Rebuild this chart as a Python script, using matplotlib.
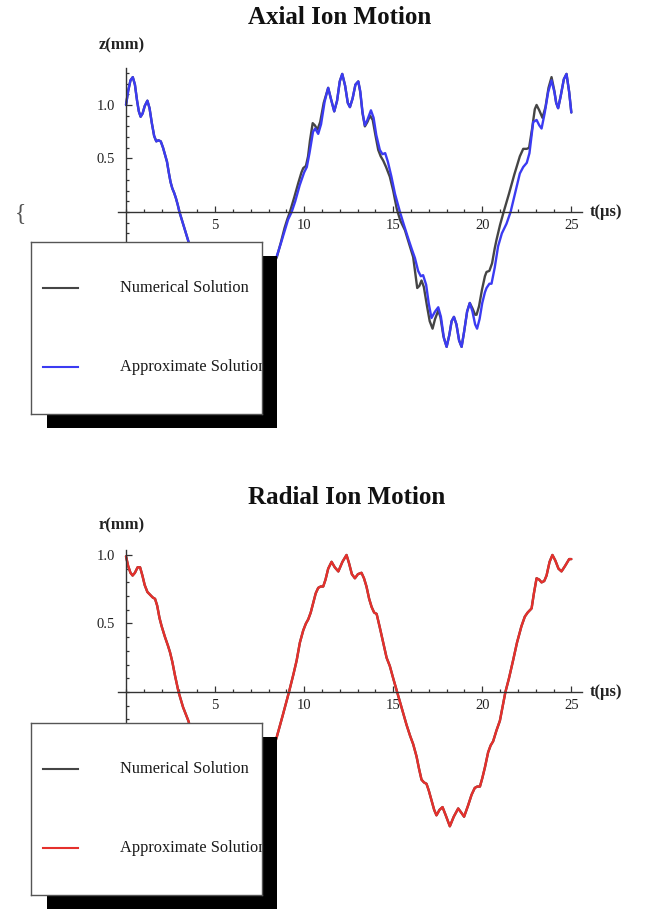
import matplotlib
matplotlib.use("Agg")
import matplotlib.pyplot as plt
from matplotlib.patches import Rectangle
from matplotlib.ticker import FixedLocator, MultipleLocator

plt.rcParams['font.family'] = ['Liberation Serif', 'DejaVu Serif']

# (t in us, z in mm)
axial_numerical = [
    (0.00, 1.00), (0.12, 1.13), (0.25, 1.23), (0.38, 1.26), (0.50, 1.19), (0.62, 1.04),
    (0.72, 0.94), (0.82, 0.89), (0.93, 0.92), (1.05, 0.99), (1.20, 1.04), (1.32, 0.97),
    (1.45, 0.83), (1.58, 0.71), (1.70, 0.66), (1.82, 0.67), (1.95, 0.66), (2.08, 0.60),
    (2.20, 0.53), (2.30, 0.47), (2.40, 0.37), (2.50, 0.28), (2.60, 0.22), (2.70, 0.18),
    (2.80, 0.13), (2.90, 0.07), (3.00, 0.00), (3.20, -0.11), (3.40, -0.22), (3.55, -0.30),
    (3.80, -0.45), (4.05, -0.62), (4.20, -0.70), (4.35, -0.68), (4.55, -0.80), (4.80, -1.05),
    (4.95, -1.10), (5.15, -0.95), (5.35, -0.98), (5.60, -1.22), (5.80, -1.26), (6.00, -1.05),
    (6.20, -0.98), (6.45, -1.20), (6.65, -1.26), (6.85, -1.05), (7.10, -0.88), (7.30, -0.97),
    (7.50, -0.92), (7.75, -0.68), (8.00, -0.58), (8.20, -0.52), (8.47, -0.42), (8.70, -0.28),
    (8.90, -0.15), (9.05, -0.07), (9.20, 0.00), (9.45, 0.14), (9.67, 0.27), (9.85, 0.37),
    (9.95, 0.41), (10.10, 0.43), (10.22, 0.52), (10.33, 0.67), (10.48, 0.83), (10.60, 0.81),
    (10.75, 0.77), (10.90, 0.84), (11.10, 1.02), (11.35, 1.16), (11.50, 1.06), (11.69, 0.94),
    (11.85, 1.04), (12.00, 1.22), (12.14, 1.29), (12.30, 1.18), (12.45, 1.02), (12.57, 0.98),
    (12.72, 1.06), (12.88, 1.19), (13.04, 1.22), (13.15, 1.12), (13.28, 0.92), (13.41, 0.80),
    (13.55, 0.84), (13.70, 0.90), (13.85, 0.86), (14.00, 0.72), (14.16, 0.58), (14.30, 0.52),
    (14.44, 0.48), (14.60, 0.42), (14.81, 0.33), (15.00, 0.20), (15.20, 0.03), (15.40, -0.08),
    (15.66, -0.17), (15.90, -0.30), (16.12, -0.42), (16.25, -0.58), (16.35, -0.71), (16.47, -0.69),
    (16.59, -0.64), (16.72, -0.70), (16.90, -0.88), (17.05, -1.02), (17.21, -1.09), (17.35, -1.00),
    (17.53, -0.92), (17.65, -0.98), (17.82, -1.16), (18.00, -1.26), (18.15, -1.15), (18.28, -1.02),
    (18.41, -0.98), (18.55, -1.05), (18.70, -1.20), (18.84, -1.26), (18.98, -1.12), (19.15, -0.93),
    (19.30, -0.85), (19.45, -0.90), (19.60, -0.96), (19.68, -0.96), (19.82, -0.88), (19.98, -0.73),
    (20.15, -0.60), (20.24, -0.56), (20.40, -0.55), (20.55, -0.48), (20.70, -0.34), (20.80, -0.26),
    (21.00, -0.12), (21.20, 0.00), (21.50, 0.17), (21.80, 0.35), (22.11, 0.52), (22.30, 0.59),
    (22.50, 0.59), (22.63, 0.60), (22.80, 0.78), (22.95, 0.96), (23.05, 1.00), (23.20, 0.95),
    (23.38, 0.88), (23.55, 0.98), (23.72, 1.16), (23.89, 1.26), (24.05, 1.13), (24.15, 1.02),
    (24.26, 0.97), (24.40, 1.08), (24.58, 1.24), (24.73, 1.29), (24.88, 1.12), (25.00, 0.93),
]

axial_approx = [
    (0.00, 1.00), (0.12, 1.13), (0.25, 1.23), (0.38, 1.26), (0.50, 1.19), (0.62, 1.04),
    (0.72, 0.94), (0.82, 0.89), (0.93, 0.92), (1.05, 0.99), (1.20, 1.04), (1.32, 0.97),
    (1.45, 0.83), (1.58, 0.71), (1.70, 0.66), (1.82, 0.67), (1.95, 0.66), (2.08, 0.60),
    (2.20, 0.53), (2.30, 0.47), (2.40, 0.37), (2.50, 0.28), (2.60, 0.22), (2.70, 0.18),
    (2.80, 0.13), (2.90, 0.07), (3.00, 0.00), (3.20, -0.11), (3.40, -0.22), (3.55, -0.30),
    (3.80, -0.45), (4.05, -0.62), (4.20, -0.70), (4.35, -0.68), (4.55, -0.80), (4.80, -1.05),
    (4.95, -1.10), (5.15, -0.95), (5.35, -0.98), (5.60, -1.22), (5.80, -1.26), (6.00, -1.05),
    (6.20, -0.98), (6.45, -1.20), (6.65, -1.26), (6.85, -1.05), (7.10, -0.88), (7.30, -0.97),
    (7.50, -0.92), (7.75, -0.68), (8.00, -0.58), (8.20, -0.52), (8.47, -0.41), (8.70, -0.29),
    (8.90, -0.18), (9.10, -0.07), (9.30, 0.00), (9.50, 0.10), (9.75, 0.25), (10.00, 0.37),
    (10.15, 0.42), (10.30, 0.55), (10.50, 0.75), (10.62, 0.78), (10.79, 0.73), (10.95, 0.82),
    (11.15, 1.03), (11.35, 1.16), (11.50, 1.06), (11.69, 0.94), (11.85, 1.04), (12.00, 1.22),
    (12.14, 1.29), (12.30, 1.18), (12.45, 1.02), (12.57, 0.98), (12.72, 1.06), (12.88, 1.19),
    (13.04, 1.22), (13.15, 1.13), (13.28, 0.93), (13.41, 0.81), (13.55, 0.86), (13.75, 0.95),
    (13.90, 0.88), (14.05, 0.72), (14.25, 0.58), (14.40, 0.54), (14.55, 0.55), (14.70, 0.47),
    (14.90, 0.33), (15.10, 0.17), (15.38, 0.00), (15.60, -0.12), (15.85, -0.25), (16.05, -0.35),
    (16.22, -0.43), (16.40, -0.55), (16.55, -0.60), (16.68, -0.59), (16.85, -0.68), (17.00, -0.86),
    (17.15, -0.99), (17.35, -0.93), (17.53, -0.89), (17.68, -0.98), (17.85, -1.18), (18.00, -1.26),
    (18.15, -1.15), (18.28, -1.02), (18.41, -0.98), (18.55, -1.05), (18.70, -1.20), (18.84, -1.26),
    (18.98, -1.12), (19.15, -0.93), (19.30, -0.85), (19.45, -0.93), (19.60, -1.05), (19.71, -1.09),
    (19.85, -1.00), (20.00, -0.85), (20.15, -0.75), (20.24, -0.71), (20.40, -0.67), (20.52, -0.67),
    (20.70, -0.52), (20.89, -0.32), (21.10, -0.20), (21.36, -0.11), (21.59, 0.00), (21.85, 0.18),
    (22.11, 0.36), (22.30, 0.42), (22.50, 0.46), (22.65, 0.55), (22.86, 0.84), (23.05, 0.86),
    (23.20, 0.81), (23.33, 0.78), (23.50, 0.92), (23.70, 1.12), (23.89, 1.23), (24.05, 1.12),
    (24.15, 1.02), (24.26, 0.97), (24.40, 1.08), (24.58, 1.24), (24.73, 1.29), (24.88, 1.12),
    (25.00, 0.93),
]

# (t in us, r in mm)
radial_approx = [
    (0.00, 0.99), (0.12, 0.92), (0.25, 0.87), (0.37, 0.85), (0.50, 0.87), (0.65, 0.91),
    (0.79, 0.91), (0.92, 0.85), (1.05, 0.78), (1.20, 0.73), (1.35, 0.71), (1.50, 0.69),
    (1.63, 0.68), (1.75, 0.63), (1.88, 0.54), (2.00, 0.48), (2.19, 0.40), (2.35, 0.34),
    (2.47, 0.29), (2.60, 0.22), (2.75, 0.12), (2.95, 0.00), (3.20, -0.11), (3.50, -0.21),
    (3.80, -0.35), (4.10, -0.48), (4.35, -0.60), (4.60, -0.67), (4.85, -0.73), (5.05, -0.82),
    (5.25, -0.90), (5.60, -0.84), (6.00, -0.98), (6.45, -0.85), (6.80, -0.91), (7.20, -0.72),
    (7.45, -0.69), (7.75, -0.62), (8.10, -0.48), (8.46, -0.33), (8.80, -0.17), (9.15, 0.00),
    (9.40, 0.13), (9.58, 0.23), (9.76, 0.36), (9.95, 0.45), (10.10, 0.50), (10.23, 0.53),
    (10.37, 0.58), (10.51, 0.65), (10.65, 0.72), (10.79, 0.76), (10.93, 0.77), (11.07, 0.77),
    (11.20, 0.82), (11.35, 0.90), (11.54, 0.95), (11.72, 0.91), (11.92, 0.88), (12.15, 0.95),
    (12.38, 1.00), (12.52, 0.94), (12.68, 0.86), (12.85, 0.83), (13.02, 0.86), (13.22, 0.87),
    (13.36, 0.83), (13.50, 0.77), (13.65, 0.68), (13.79, 0.62), (13.93, 0.58), (14.07, 0.57),
    (14.25, 0.47), (14.44, 0.36), (14.63, 0.25), (14.81, 0.19), (15.00, 0.10), (15.22, 0.00),
    (15.50, -0.13), (15.75, -0.24), (15.95, -0.32), (16.12, -0.38), (16.31, -0.47), (16.45, -0.56),
    (16.59, -0.64), (16.73, -0.66), (16.87, -0.67), (17.00, -0.72), (17.15, -0.79), (17.30, -0.86),
    (17.43, -0.90), (17.60, -0.86), (17.77, -0.84), (17.95, -0.90), (18.18, -0.98), (18.40, -0.91),
    (18.65, -0.85), (18.82, -0.88), (18.98, -0.91), (19.20, -0.83), (19.40, -0.75), (19.58, -0.70),
    (19.72, -0.69), (19.87, -0.69), (20.00, -0.63), (20.15, -0.55), (20.33, -0.44), (20.47, -0.39),
    (20.61, -0.36), (20.80, -0.28), (20.99, -0.21), (21.30, 0.00), (21.50, 0.10), (21.73, 0.23),
    (21.95, 0.36), (22.20, 0.48), (22.39, 0.55), (22.55, 0.58), (22.77, 0.61), (22.90, 0.72),
    (23.05, 0.83), (23.20, 0.82), (23.33, 0.80), (23.48, 0.81), (23.61, 0.85), (23.78, 0.95),
    (23.94, 1.00), (24.10, 0.96), (24.28, 0.90), (24.45, 0.88), (24.65, 0.92), (24.88, 0.97),
    (25.00, 0.97),
]
# numerical radial curve lies exactly under the red one
radial_numerical = radial_approx

legend_labels = ['Numerical Solution', 'Approximate Solution']

num_color = '#454545'
blue = '#3b3bf2'
red = '#e5302c'
axis_color = '#333333'

W, H = 668, 909
fig = plt.figure(figsize=(W / 100, H / 100), dpi=100)


def box(x0, y0, x1, y1):
    # pixel box (top-left origin) -> figure fraction rect
    return [x0 / W, 1 - y1 / H, (x1 - x0) / W, (y1 - y0) / H]


def style_axes(ax, ylim, ymajor):
    ax.set_xlim(-0.45, 25.6)
    ax.set_ylim(*ylim)
    for s in ['top', 'right']:
        ax.spines[s].set_visible(False)
    ax.spines['left'].set_position(('data', 0))
    ax.spines['bottom'].set_position(('data', 0))
    for s in ['left', 'bottom']:
        ax.spines[s].set_color(axis_color)
        ax.spines[s].set_linewidth(1.0)
    ax.xaxis.set_major_locator(FixedLocator([5, 10, 15, 20, 25]))
    ax.xaxis.set_minor_locator(MultipleLocator(1))
    ax.yaxis.set_major_locator(FixedLocator(ymajor))
    ax.yaxis.set_minor_locator(MultipleLocator(0.1))
    ax.tick_params(which='both', direction='in', color=axis_color, width=0.9,
                   labelsize=10.5, labelcolor='#222222')
    ax.tick_params(which='major', length=4)
    ax.tick_params(which='minor', length=2.5)
    ax.tick_params(axis='x', pad=5)
    ax.tick_params(axis='y', pad=8)
    ax.set_facecolor('none')


def plot_series(ax, pts, color):
    t = [p[0] for p in pts]
    v = [p[1] for p in pts]
    ax.plot(t, v, color=color, lw=1.7, solid_joinstyle='round', solid_capstyle='round')


def draw_legend(y0, y1, approx_color):
    x0, x1 = 31, 262
    shadow = Rectangle(((x0 + 16) / W, 1 - (y1 + 14) / H), (x1 + 15 - x0 - 16) / W,
                       (y1 - y0) / H, transform=fig.transFigure,
                       facecolor='black', edgecolor='none', zorder=5)
    fig.add_artist(shadow)
    lax = fig.add_axes(box(x0, y0, x1, y1))
    lax.set_zorder(6)
    lax.set_xlim(x0, x1)
    lax.set_ylim(y1, y0)
    lax.set_xticks([])
    lax.set_yticks([])
    lax.set_facecolor('white')
    for s in lax.spines.values():
        s.set_color('#555555')
        s.set_linewidth(1.0)
    rows = [(y0 + 46, num_color), (y0 + 125, approx_color)]
    for (yy, c), lab in zip(rows, legend_labels):
        lax.plot([43, 78], [yy, yy], color=c, lw=1.5)
        lax.text(120, yy, lab, fontsize=11.8, color='#1a1a1a', va='center', ha='left',
                 clip_on=True)


# ---- Axial panel ----
ax1 = fig.add_axes(box(118, 67.5, 582, 356.5))
style_axes(ax1, (-1.35, 1.35), [-1.0, -0.5, 0.5, 1.0])
plot_series(ax1, axial_numerical, num_color)
plot_series(ax1, axial_approx, blue)

# ---- Radial panel ----
ax2 = fig.add_axes(box(118, 549.5, 582, 834.5))
style_axes(ax2, (-1.04, 1.04), [-1.0, -0.5, 0.5, 1.0])
plot_series(ax2, radial_numerical, num_color)
plot_series(ax2, radial_approx, red)

draw_legend(242, 414, blue)
draw_legend(723, 895, red)

fig.text(340 / W, 1 - 18 / H, 'Axial Ion Motion', ha='center', va='center',
         fontsize=18, fontweight='bold', color='#111111')
fig.text(347 / W, 1 - 497 / H, 'Radial Ion Motion', ha='center', va='center',
         fontsize=18, fontweight='bold', color='#111111')
fig.text(122 / W, 1 - 45 / H, 'z(mm)', ha='center', va='center', fontsize=12,
         fontweight='bold', color='#222222')
fig.text(122 / W, 1 - 525 / H, 'r(mm)', ha='center', va='center', fontsize=12,
         fontweight='bold', color='#222222')
fig.text(590 / W, 1 - 212 / H, 't(μs)', ha='left', va='center', fontsize=12,
         fontweight='bold', color='#222222')
fig.text(590 / W, 1 - 692 / H, 't(μs)', ha='left', va='center', fontsize=12,
         fontweight='bold', color='#222222')
fig.text(20 / W, 1 - 214 / H, '{', ha='center', va='center', fontsize=17, color='#555555')

fig.savefig('out.png', dpi=100, facecolor='white')
